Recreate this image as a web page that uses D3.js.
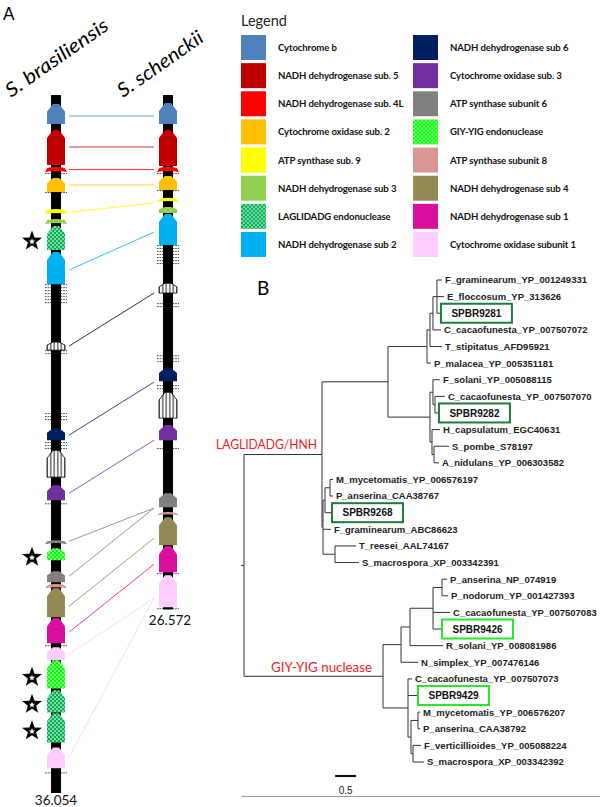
<!DOCTYPE html>
<html><head><meta charset="utf-8">
<script src="https://cdn.jsdelivr.net/npm/d3@7"></script>
<style>body{margin:0;background:#fff}svg{display:block}</style>
</head><body>
<svg id="c" width="600" height="807"></svg>
<script>
// ---------------- DATA ----------------
const geneColors = {cob:"#4F81BD", nad5:"#C00000", nad4L:"#FF0000", cox2:"#FFC000", atp9:"#FFFF00",
  nad3:"#92D050", lag:"#00B050", nad2:"#00B0F0", nad6:"#002060", cox3:"#7030A0", atp6:"#808080",
  giy:"#00FF00", atp8:"#DA9694", nad4:"#948A54", nad1:"#DC0E9E", cox1:"#FFCCFF", orf:"#000000"};

const legendLeft = [["cob","Cytochrome b"],["nad5","NADH dehydrogenase sub. 5"],["nad4L","NADH dehydrogenase sub. 4L"],
  ["cox2","Cytochrome oxidase sub. 2"],["atp9","ATP synthase sub. 9"],["nad3","NADH dehydrogenase sub 3"],
  ["lag","LAGLIDADG endonuclease"],["nad2","NADH dehydrogenase sub 2"]];
const legendRight = [["nad6","NADH dehydrogenase sub 6"],["cox3","Cytochrome oxidase sub. 3"],["atp6","ATP synthase subunit 6"],
  ["giy","GIY-YIG endonuclease"],["atp8","ATP synthase subunit 8"],["nad4","NADH dehydrogenase sub 4"],
  ["nad1","NADH dehydrogenase sub 1"],["cox1","Cytochrome oxidase subunit 1"]];

const species = ["S. brasiliensis","S. schenckii"];
const genomeLength = [36.054, 26.572];   // kb
// [gene, start kb, end kb, intron-encoded endonuclease star]
const genesBras = [["cob",0.47,1.50],["nad5",1.81,3.62],["nad4L",3.72,3.98],["cox2",4.29,5.01],["atp9",5.89,6.15],
  ["nad3",6.41,6.67],["lag",6.77,8.01,1],["nad2",8.11,9.77],["orf",12.76,13.18],["nad6",17.21,17.83],["orf",18.35,19.74],
  ["cox3",20.16,20.93],["atp6",23.0,23.2],["giy",23.41,24.03,1],["atp6",24.60,25.17],["atp8",25.27,25.48],
  ["nad4",25.48,26.98],["nad1",27.03,28.32],["cox1",28.53,29.20],["giy",29.20,30.65,1],["lag",30.75,31.89,1],
  ["lag",31.94,33.44,1],["cox1",33.70,34.78]];
const genesSchen = [["cob",0.41,1.50],["nad5",1.81,3.67],["nad4L",3.72,3.98],["cox2",4.19,4.91],["atp9",5.32,5.53],
  ["nad3",5.79,6.10],["nad2",6.15,7.75],["orf",9.72,10.23],["nad6",14.11,14.78],["orf",15.35,16.69],["cox3",17.05,17.83],
  ["atp6",20.57,21.29],["atp8",21.55,21.71],["nad4",21.81,23.26],["nad1",23.31,24.65],["cox1",24.81,26.46]];
// tRNA tick groups [kb, rows]
const ticksBras = [[4.03,1],[5.01,1],[9.77,7],[13.18,2],[16.43,3],[17.93,3],[21.09,1],[28.42,1],[34.99,1]];
const ticksSchen = [[4.03,1],[4.91,1],[7.75,7],[10.75,2],[13.44,3],[14.99,2],[18.24,1],[24.70,1],[26.51,1]];
// synteny links [gene, kb in S. brasiliensis, kb in S. schenckii]
const links = [["cob",1.085,1.085],["nad5",2.687,2.687],["nad4L",3.85,3.85],["cox2",4.65,4.65],["atp9",6.05,5.58],
  ["nad2",9.04,7.08],["orf",12.97,10.23],["nad6",17.57,14.83],["cox3",20.57,17.83],["atp6",23.05,21.34],
  ["atp6",24.86,21.34],["nad4",26.41,22.89],["nad1",27.75,24.24],["cox1",28.89,25.99],["cox1",34.21,25.99]];

const treeNewick = "(((((((F_graminearum_YP_001249331:0.119,E_floccosum_YP_313626:0.167,SPBR9281:0.071):0.095,C_cacaofunesta_YP_007507072:0.19):0.071,T_stipitatus_AFD95921:0.286):0.071,P_malacea_YP_005351181:0.095):0.929,((F_solani_YP_005088115:0.167,(C_cacaofunesta_YP_007507070:0.238,SPBR9282:0.071):0.048):0.071,(H_capsulatum_EGC40631:0.19,(S_pombe_S78197:0.357,A_nidulans_YP_006303582:0.119):0.048):0.048):1.0):1.571,(((M_mycetomatis_YP_006576197:0.071,P_anserina_CAA38767:0.071):0.119,SPBR9268:0.143):0.048,F_graminearum_ABC86623:0.19,(T_reesei_AAL74167:0.5,S_macrospora_XP_003342391:0.571):0.286):0.024):1.857,(((((P_anserina_NP_074919:0.119,P_nodorum_YP_001427393:0.143):0.214,C_cacaofunesta_YP_007507083:0.405,SPBR9426:0.19):0.548,R_solani_YP_008081986:0.786):0.214,N_simplex_YP_007476146:0.405):0.429,(C_cacaofunesta_YP_007507073:0.095,SPBR9429:0.214,((M_mycetomatis_YP_006576207:0.048,P_anserina_CAA38792:0.048):0.167,(F_verticillioides_YP_005088224:0.19,S_macrospora_XP_003342392:0.262):0.048):0.071):0.595):3.31);";
const boxedLeaves = [["SPBR9281","#1E7B3E"],["SPBR9282","#1E7B3E"],["SPBR9268","#1E7B3E"],["SPBR9426","#2BE52B"],["SPBR9429","#2BE52B"]];
const cladeLabels = [["LAGLIDADG/HNH",0],["GIY-YIG nuclease",1]];
const scaleBarValue = 0.5;

// ---------------- DRAW ----------------
const svg = d3.select("#c");
const defs = svg.append("defs");
function dotPattern(id, color){
  const p = defs.append("pattern").attr("id",id).attr("width",4).attr("height",4).attr("patternUnits","userSpaceOnUse");
  p.append("rect").attr("width",4).attr("height",4).attr("fill",color);
  p.append("circle").attr("cx",1).attr("cy",1).attr("r",0.85).attr("fill","#fff");
  p.append("circle").attr("cx",3).attr("cy",3).attr("r",0.85).attr("fill","#fff");
}
dotPattern("pLag", geneColors.lag);
dotPattern("pGiy", geneColors.giy);
const sp = defs.append("pattern").attr("id","pOrf").attr("width",3.5).attr("height",4).attr("patternUnits","userSpaceOnUse");
sp.append("rect").attr("width",3.5).attr("height",4).attr("fill","#fff");
sp.append("line").attr("x1",1.75).attr("x2",1.75).attr("y1",0).attr("y2",4).attr("stroke","#000").attr("stroke-width",0.9);
const fillFor = g => g==="lag" ? "url(#pLag)" : g==="giy" ? "url(#pGiy)" : g==="orf" ? "url(#pOrf)" : geneColors[g];

const calibri = "Lato, 'Open Sans', sans-serif";
const arial = "'Liberation Sans', Arial, sans-serif";

// Panel labels
svg.append("text").attr("x",3).attr("y",20).attr("font-family",calibri).attr("font-size",17).text("A");
svg.append("text").attr("x",257).attr("y",295).attr("font-family",calibri).attr("font-size",19).text("B");

// Legend
svg.append("text").attr("x",241).attr("y",26).attr("font-family",calibri).attr("font-size",14.5).attr("fill","#222").text("Legend");
const legY = d3.scaleLinear().domain([0,7]).range([35,232]);
[[legendLeft,241],[legendRight,413]].forEach(([items,x0])=>{
  const g = svg.append("g");
  const row = g.selectAll("g").data(items).join("g").attr("transform",(d,i)=>`translate(${x0},${legY(i)})`);
  row.append("rect").attr("width",25).attr("height",25).attr("fill",d=>fillFor(d[0]));
  row.append("text").attr("x",37).attr("y",16).attr("font-family",calibri).attr("font-weight","bold")
    .attr("font-size",9.6).attr("letter-spacing",-0.12).attr("fill","#111").text(d=>d[1]);
});

// Panel A: genomes
const chromX = d3.scalePoint().domain(species).range([56,168]);
const yG = d3.scaleLinear().domain([0, genomeLength[0]]).range([95, 793]);
const geneSets = [genesBras, genesSchen];
const tickSets = [ticksBras, ticksSchen];
const titleLen = [121, 100];

// species names
species.forEach((s,i)=>{
  const cx = chromX(s);
  svg.append("text").attr("transform",`translate(${cx-45},98) rotate(-35)`)
    .attr("font-family",calibri).attr("font-style","italic").attr("font-size",19.5)
    .attr("textLength",titleLen[i]).attr("lengthAdjust","spacingAndGlyphs").text(s);
});

// links
svg.append("g").selectAll("line").data(links).join("line")
  .attr("x1",chromX(species[0])+13).attr("x2",chromX(species[1])-14)
  .attr("y1",d=>yG(d[1])).attr("y2",d=>yG(d[2]))
  .attr("stroke",d=>geneColors[d[0]]).attr("stroke-width",1).attr("stroke-opacity",0.8);

function housePath(cx, y0, y1, hw){
  const h = y1-y0;
  if (h < 5.5){
    return `M${cx-hw-2},${y1} L${cx-hw},${y0+1.2} Q${cx},${y0-1.5} ${cx+hw},${y0+1.2} L${cx+hw+2},${y1} Q${cx},${y1-2.2} ${cx-hw-2},${y1} Z`;
  }
  const tip = Math.min(8, h*0.38);
  return `M${cx-3},${y0} L${cx+3},${y0} L${cx+hw},${y0+tip} L${cx+hw},${y1} L${cx-hw},${y1} L${cx-hw},${y0+tip} Z`;
}
function starPath(cx, cy, R, r){
  const pts = d3.range(10).map(k=>{const a=-Math.PI/2+k*Math.PI/5, rr=k%2?r:R; return [cx+rr*Math.cos(a), cy+rr*Math.sin(a)];});
  return "M"+pts.map(p=>p.join(",")).join("L")+"Z";
}

species.forEach((s,i)=>{
  const cx = chromX(s);
  const g = svg.append("g");
  // tRNA ticks
  tickSets[i].forEach(([kb,rows])=>{
    d3.range(rows).forEach(r=>{
      g.append("line").attr("x1",cx-11).attr("x2",cx+11).attr("y1",yG(kb)+r*3+0.5).attr("y2",yG(kb)+r*3+0.5)
        .attr("stroke","#444").attr("stroke-width",1).attr("stroke-dasharray","1.6,1");
    });
  });
  // backbone
  g.append("rect").attr("x",cx-5).attr("width",10).attr("y",yG(0)).attr("height",yG(genomeLength[i])-yG(0)).attr("fill","#000");
  // genes
  g.selectAll("path.gene").data(geneSets[i]).join("path").attr("class","gene")
    .attr("d",d=>housePath(cx, yG(d[1]), yG(d[2]), 9))
    .attr("fill",d=>fillFor(d[0]))
    .attr("stroke",d=>d[0]==="orf"?"#000":"none").attr("stroke-width",0.8);
  // stars
  g.selectAll("path.star").data(geneSets[i].filter(d=>d[3])).join("path").attr("class","star")
    .attr("d",d=>starPath(cx-24, (yG(d[1])+yG(d[2]))/2+3, 10.5, 4.3)).attr("fill","#000");
  g.selectAll("path.star2").data(geneSets[i].filter(d=>d[3])).join("path").attr("class","star2")
    .attr("d",d=>starPath(cx-24, (yG(d[1])+yG(d[2]))/2+3.5, 3.2, 1.4)).attr("fill","#fff");
  // length label
  svg.append("text").attr("x",cx+(i?2:0)).attr("y",yG(genomeLength[i])+(i?16:11.5)).attr("text-anchor","middle")
    .attr("font-family",calibri).attr("font-size",13.5).attr("fill","#111").text(genomeLength[i].toFixed(3));
});

// Panel B: tree
function parseNewick(s){
  let i=0;
  function node(){
    const n={};
    if(s[i]==="("){ n.children=[]; i++; n.children.push(node()); while(s[i]===","){i++; n.children.push(node());} i++; }
    let name=""; while(i<s.length && !":,);".includes(s[i])) name+=s[i++];
    n.name=name;
    if(s[i]===":"){ i++; let num=""; while(i<s.length && !",);".includes(s[i])) num+=s[i++]; n.length=+num; } else n.length=0;
    return n;
  }
  return node();
}
const root = d3.hierarchy(parseNewick(treeNewick));
root.eachBefore(d=>{ d.bx = d.parent ? d.parent.bx + d.data.length : 0; });
const leaves = root.leaves();
const xT = d3.scaleLinear().domain([0,1]).range([244,286]);
const yT = d3.scaleLinear().domain([0,leaves.length-1]).range([280,762]);
leaves.forEach((l,k)=>{ l.by = yT(k); });
root.eachAfter(d=>{ if(d.children) d.by = (d.children[0].by + d.children[d.children.length-1].by)/2; });

const tg = svg.append("g").attr("stroke","#333").attr("stroke-width",1).attr("fill","none");
root.descendants().forEach(d=>{
  if(d.parent) tg.append("line").attr("x1",xT(d.parent.bx)).attr("x2",xT(d.bx)).attr("y1",d.by).attr("y2",d.by);
  if(d.children) tg.append("line").attr("x1",xT(d.bx)).attr("x2",xT(d.bx))
      .attr("y1",d.children[0].by).attr("y2",d.children[d.children.length-1].by);
});
tg.append("line").attr("x1",xT(0)-3).attr("x2",xT(0)).attr("y1",root.by).attr("y2",root.by);

const boxMap = new Map(boxedLeaves);
leaves.forEach(l=>{
  const x = xT(l.bx);
  if(boxMap.has(l.data.name)){
    svg.append("rect").attr("x",x+1).attr("y",l.by-9.5).attr("width",71).attr("height",19)
      .attr("fill","#fff").attr("stroke",boxMap.get(l.data.name)).attr("stroke-width",2);
    svg.append("text").attr("x",x+36.5).attr("y",l.by).attr("dy","0.36em").attr("text-anchor","middle")
      .attr("font-family",arial).attr("font-weight","bold").attr("font-size",10).attr("fill","#111").text(l.data.name);
  } else {
    svg.append("text").attr("x",x+3).attr("y",l.by).attr("dy","0.36em")
      .attr("font-family",arial).attr("font-weight","bold").attr("font-size",9.5).attr("fill","#222").text(l.data.name);
  }
});

// clade labels
const cladeLen = [101, 101];
cladeLabels.forEach(([txt,k])=>{
  const c = root.children[k];
  const t = svg.append("text").attr("font-family",calibri).attr("font-size",14).attr("fill","#EE1C25")
    .attr("textLength",cladeLen[k]).attr("lengthAdjust","spacingAndGlyphs").text(txt);
  if(k===0) t.attr("x",xT(c.bx)-5-cladeLen[k]).attr("y",c.by-6);
  else t.attr("x",xT(c.bx)-112).attr("y",c.by-4);
});

// scale bar
const sb0 = xT(2.17);
svg.append("line").attr("x1",sb0).attr("x2",sb0+xT(scaleBarValue)-xT(0)).attr("y1",776).attr("y2",776)
  .attr("stroke","#111").attr("stroke-width",2.2);
svg.append("text").attr("x",sb0+(xT(scaleBarValue)-xT(0))/2).attr("y",794).attr("text-anchor","middle")
  .attr("font-family",arial).attr("font-size",10).attr("fill","#222").text(scaleBarValue);
svg.append("line").attr("x1",242).attr("x2",600).attr("y1",796.5).attr("y2",796.5).attr("stroke","#999").attr("stroke-width",1);
</script>
</body></html>
